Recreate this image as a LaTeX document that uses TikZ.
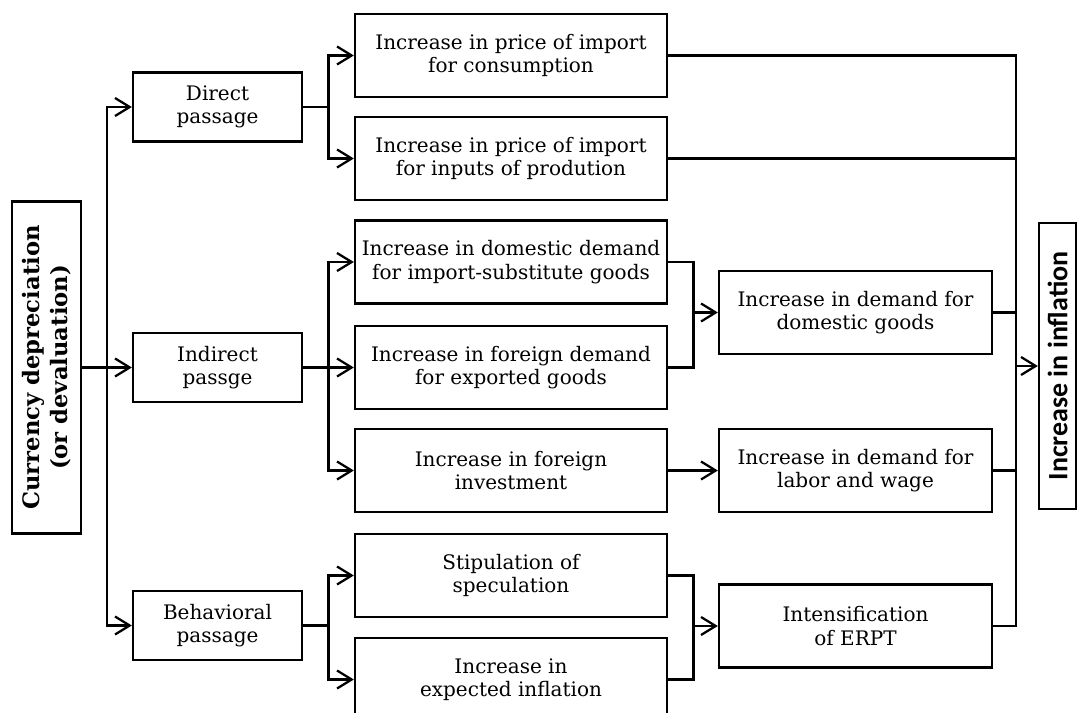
\documentclass[tikz,border=0pt]{standalone}
\usepackage{fontspec}
\setmainfont{DejaVu Serif}
\newfontfamily\carlito{Carlito}
\usetikzlibrary{arrows.meta}

\begin{document}
\begin{tikzpicture}[x=0.75pt,y=-0.75pt,line width=1.7pt,
        >={Straight Barb[length=11pt,width=13.5pt]},
        box node/.style={rectangle,draw,align=center,inner sep=1pt,font=\fontsize{15}{17.5}\selectfont},
        pass node/.style={box node,minimum width=126.75pt,minimum height=51.75pt},
        effect node/.style={box node,minimum width=234pt,minimum height=62.25pt},
        result node/.style={box node,minimum width=204.75pt,minimum height=62.25pt}]

                \useasboundingbox (0,0) rectangle (1078,713);

                % source and target
                \node[box node,rotate=90,minimum width=249pt,minimum height=51.75pt,font=\fontsize{17}{20.5}\selectfont\bfseries] at (46.5,367.5) (cur) {Currency depreciation\\(or devaluation)};
                \node[box node,rotate=90,minimum width=214.5pt,minimum height=27.75pt,font=\fontsize{21}{24}\carlito\bfseries] at (1057.5,366) (infl) {Increase in inflation};

                % passages
                \node[pass node] at (217.5,107) (dir) {Direct\\passage};
                \node[pass node] at (217.5,367.5) (ind) {Indirect\\passge};
                \node[pass node] at (217.5,625.5) (beh) {Behavioral\\passage};

                % first effects
                \node[effect node] at (511,55.5) (cons) {Increase in price of import\\for consumption};
                \node[effect node] at (511,158.5) (inp) {Increase in price of import\\for inputs of prodution};
                \node[effect node] at (511,262) (dom) {Increase in domestic demand\\for import-substitute goods};
                \node[effect node] at (511,367.5) (forg) {Increase in foreign demand\\for exported goods};
                \node[effect node] at (511,470.5) (inv) {Increase in foreign\\investment};
                \node[effect node] at (511,575.5) (spec) {Stipulation of\\speculation};
                \node[effect node] at (511,679.5) (expi) {Increase in\\expected inflation};

                % second effects
                \node[result node] at (855.5,312.5) (dgood) {Increase in demand for\\domestic goods};
                \node[result node] at (855.5,470.5) (labor) {Increase in demand for\\labor and wage};
                \node[result node] at (855.5,626) (erpt) {Intensification\\of ERPT};

                % branch points
                \coordinate (t1) at (107,367.5);
                \coordinate (b1) at (328.5,107);
                \coordinate (b2) at (328.5,367.5);
                \coordinate (b3) at (328.5,625.5);
                \coordinate (m1) at (693.5,312.5);
                \coordinate (m2) at (693.5,626);
                \coordinate (r1) at (1016,366);

                \draw (cur.south) -- (t1);
                \draw[->] (t1) |- (dir);
                \draw[->] (t1) -- (ind);
                \draw[->] (t1) |- (beh);

                \draw (dir) -- (b1);
                \draw[->] (b1) |- (cons);
                \draw[->] (b1) |- (inp);
                \draw (ind) -- (b2);
                \draw[->] (b2) |- (dom);
                \draw[->] (b2) -- (forg);
                \draw[->] (b2) |- (inv);
                \draw (beh) -- (b3);
                \draw[->] (b3) |- (spec);
                \draw[->] (b3) |- (expi);

                \draw (dom.east) -| (m1) |- (forg.east);
                \draw[->] (m1) -- (dgood);
                \draw[->] (inv) -- (labor);
                \draw (spec.east) -| (m2) |- (expi.east);
                \draw[->] (m2) -- (erpt);

                \draw (cons.east) -| (r1);
                \draw (inp.east) -| (r1);
                \draw (dgood.east) -| (r1);
                \draw (labor.east) -| (r1);
                \draw (erpt.east) -| (r1);
                \draw[->] (r1) -- (infl.north);
            \end{tikzpicture}
\end{document}
